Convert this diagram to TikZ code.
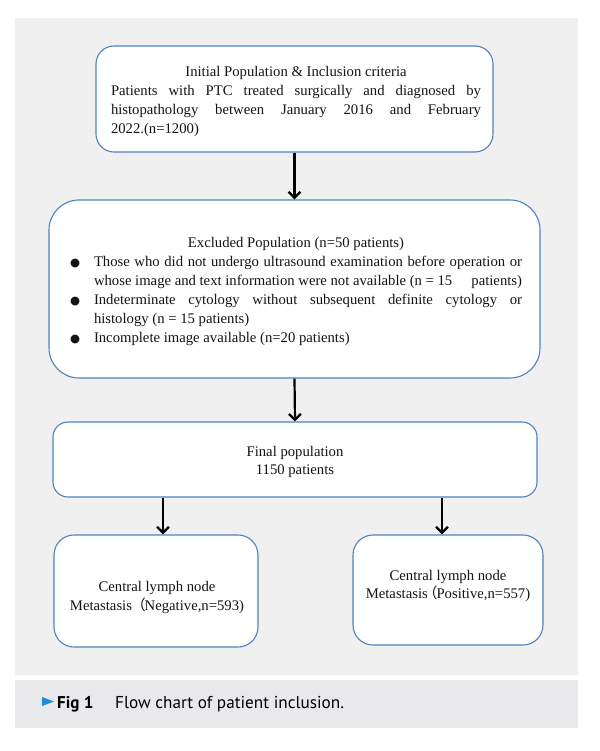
\documentclass[tikz,border=0pt]{standalone}
\usepackage{fontspec}
\setmainfont{Liberation Serif}
\newfontfamily\capfont{PT Sans}
\newfontfamily\cjkfont{Noto Sans CJK SC}
\newfontfamily\symfont{DejaVu Sans}
\usetikzlibrary{arrows.meta}
\definecolor{panel}{HTML}{F0F0F0}
\definecolor{band}{HTML}{E9E9EB}
\definecolor{edge}{HTML}{4F82BE}
\definecolor{ink}{HTML}{141414}
\definecolor{tri}{HTML}{1B8FD2}
\newcommand{\bul}{\makebox[24pt][l]{\raisebox{0pt}{\symfont\fontsize{11.5}{11.5}\selectfont ●}}}
\newcommand{\fwp}{{\cjkfont （}}
\tikzset{
  box/.style={draw=edge, line width=1.1pt, fill=white, rectangle, inner sep=0pt},
  txt/.style={text=ink, font=\fontsize{14.7}{19}\selectfont, inner sep=0pt},
  arr/.style={draw=black, line width=2.2pt, -{Straight Barb[length=6pt,width=12pt,line width=2.3pt]}},
  capt/.style={anchor=base west, inner sep=0pt, text=black}
}
\begin{document}
\begin{tikzpicture}[x=1pt,y=-1pt]
\useasboundingbox (0,0) rectangle (599,751);
\fill[panel] (15,18) rectangle (578,675);
\fill[band] (15,680) rectangle (578,728);

\node[box, rounded corners=18pt, minimum width=397pt, minimum height=106pt] (init) at (294.5,99) {};
\node[txt, text width=370pt, align=justify] (initt) at (296,101) {\makebox[370pt][c]{Initial Population \& Inclusion criteria}\\
\makebox[370pt][s]{Patients with PTC treated surgically and diagnosed by}\\
\makebox[370pt][s]{histopathology between January 2016 and February}\\
2022.(n=1200)};

\node[box, rounded corners=30pt, minimum width=491pt, minimum height=178pt] (excl) at (294.5,289) {};
\node[txt, text width=452pt, align=justify] (exclt) at (296,291.5) {\makebox[452pt][c]{Excluded Population (n=50 patients)}\\
\bul\makebox[428pt][s]{Those who did not undergo ultrasound examination before operation or}\\
\hspace*{24pt}\makebox[428pt][s]{whose image and text information were not available (n = 15\hspace{1.3em}patients)}\\
\bul\makebox[428pt][s]{Indeterminate cytology without subsequent definite cytology or}\\
\hspace*{24pt}histology (n = 15 patients)\\
\bul Incomplete image available (n=20 patients)};

\node[box, rounded corners=15pt, minimum width=484pt, minimum height=75pt] (final) at (295,459.5) {};
\node[txt, align=center, font=\fontsize{14.7}{18}\selectfont] (finalt) at (295,462) {Final population\\1150 patients};

\node[box, rounded corners=20pt, minimum width=204pt, minimum height=112pt] (neg) at (156,591) {};
\node[txt, align=center] (negt) at (157,597) {Central lymph node\\Metastasis\kern-1pt\fwp\kern-1pt Negative,n=593)};

\node[box, rounded corners=20pt, minimum width=190pt, minimum height=110pt] (pos) at (448,590) {};
\node[txt, align=center, font=\fontsize{14.7}{17.5}\selectfont] (post) at (448,586) {Central lymph node\\Metastasis\kern-5pt\fwp\kern-1pt Positive,n=557)};

\coordinate (na) at (163,0);
\coordinate (pa) at (442,0);
\draw[arr] (init.south) -- (excl.north);
\draw[arr] (excl.south) -- (final.north);
\draw[arr] (final.south -| na) -- (neg.north -| na);
\draw[arr] (final.south -| pa) -- (pos.north -| pa);

\fill[tri] (42,697) -- (54,701.5) -- (42,706) -- cycle;
\node[capt, font=\capfont\bfseries\fontsize{17}{17}\selectfont] (fig) at (57,708) {Fig 1};
\node[capt, font=\capfont\fontsize{17.2}{17}\selectfont] (cap) at (115,708) {Flow chart of patient inclusion.};
\end{tikzpicture}
\end{document}
